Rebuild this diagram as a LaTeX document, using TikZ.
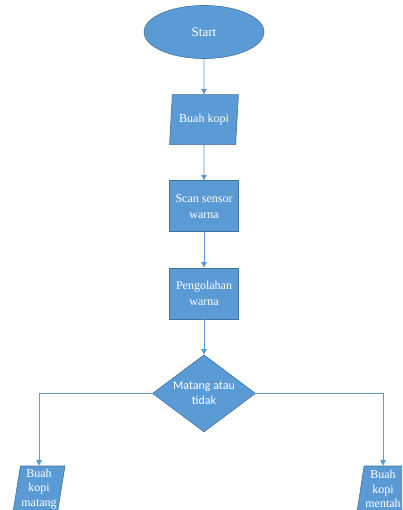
\documentclass[tikz,border=0pt]{standalone}
\usepackage{fontspec}
\setmainfont{Liberation Serif}
\newfontfamily\calibri{Carlito}
\usetikzlibrary{arrows.meta,positioning,shapes.geometric}
\definecolor{boxfill}{RGB}{91,155,213}
\definecolor{boxline}{RGB}{65,113,156}
\definecolor{arrowline}{RGB}{91,155,213}
\tikzset{flow/.style={draw=boxline,fill=boxfill,text=white,line width=0.6pt,
                      font=\fontsize{12}{16}\selectfont,align=center}}

\begin{document}
\begin{tikzpicture}[->,>={Triangle[length=5.5pt,width=5.5pt]},draw=arrowline,
                    line width=0.9pt,node distance=35.5pt]
  \tikzstyle{terminal}=[flow,ellipse,minimum width=120pt,minimum height=53pt,
                        font=\fontsize{13}{16}\selectfont]
  \tikzstyle{data}=[flow,trapezium,trapezium left angle=82,trapezium right angle=98,
                    trapezium stretches=true,minimum width=69pt,minimum height=50pt]
  \tikzstyle{process}=[flow,rectangle,minimum width=69pt,minimum height=51pt]
  \tikzstyle{decision}=[flow,diamond,inner sep=0pt,aspect=1.34,
                        minimum width=103pt,minimum height=77pt,font=\calibri\fontsize{12}{15}\selectfont]
  \tikzstyle{result}=[flow,trapezium,trapezium left angle=80,trapezium right angle=100,
                      trapezium stretches=true,inner sep=0pt,minimum width=52pt,minimum height=46pt,
                      font=\fontsize{12}{14.5}\selectfont]

  \useasboundingbox (0,0) rectangle (402pt,-510pt);
  \clip (0,0) rectangle (402pt,-510pt);

  \node[terminal] (start)                   at (204pt,-32pt) {Start};
  \node[data]     (beans)  [below=of start]                  {Buah kopi};
  \node[process]  (scan)   [below=of beans]                  {Scan sensor\\warna};
  \node[process]  (proc)   [below=of scan]                   {Pengolahan\\warna};
  \node[decision] (ripe)   [below=of proc]                   {Matang atau\\tidak};
  \node[result]   (yes)                     at (39pt,-489pt)  {Buah\\kopi\\matang};
  \node[result]   (no)                      at (383pt,-489pt) {Buah\\kopi\\mentah};

  \draw (start) -- (beans);
  \draw (beans) -- (scan);
  \draw (scan)  -- (proc);
  \draw (proc)  -- (ripe);
  \draw (ripe.west) -| (yes.north);
  \draw (ripe.east) -| (no.north);
\end{tikzpicture}
\end{document}
